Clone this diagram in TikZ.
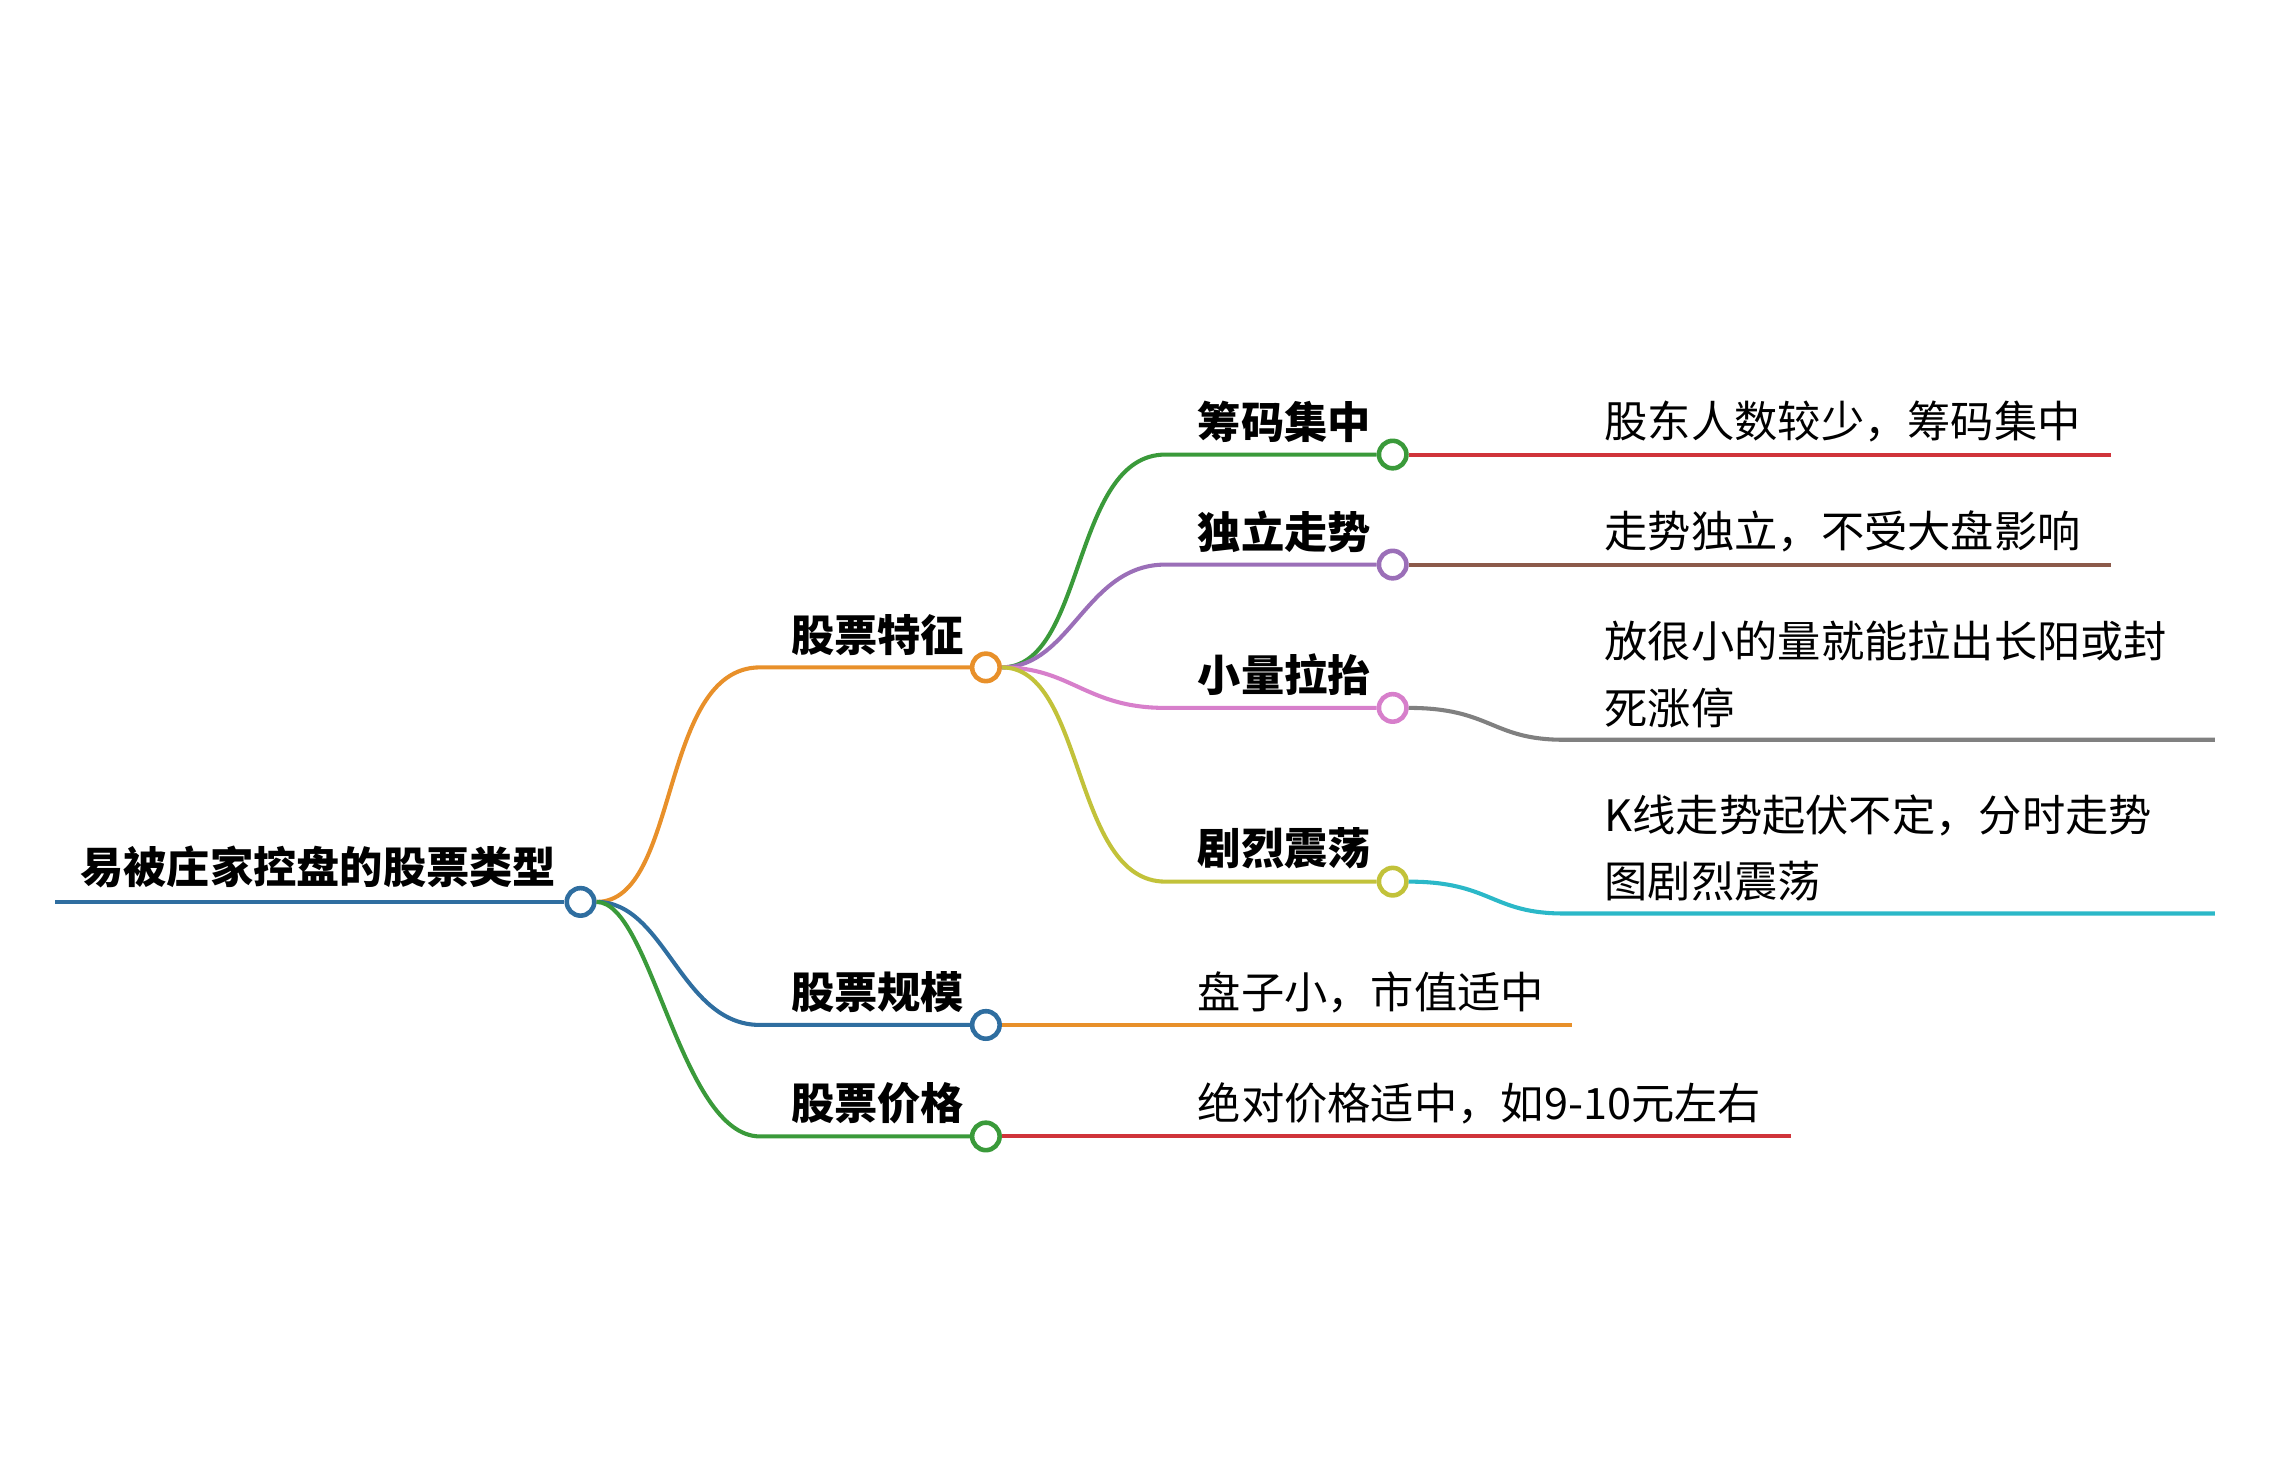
\documentclass[tikz,border=0pt]{standalone}
\usepackage{fontspec}
\setmainfont{Noto Sans CJK SC}
\usetikzlibrary{positioning}
\definecolor{cblue}{HTML}{2F6EA0}
\definecolor{corange}{HTML}{E8902A}
\definecolor{cgreen}{HTML}{3A9A3A}
\definecolor{cpurple}{HTML}{9B6FB8}
\definecolor{cpink}{HTML}{D77FCB}
\definecolor{colive}{HTML}{C2C23A}
\definecolor{cred}{HTML}{D0343A}
\definecolor{cbrown}{HTML}{8C5A4A}
\definecolor{cgray}{HTML}{808080}
\definecolor{ccyan}{HTML}{2BB8C8}
\begin{document}
\begin{tikzpicture}[x=0.01cm,y=-0.01cm,line width=0.8pt,
    dot/.style={circle,draw,fill=white,inner sep=0pt,minimum size=0.19cm,line width=0.9pt},
    topic/.style={font=\fontsize{8.5}{10}\selectfont\bfseries,inner sep=0pt,anchor=south west},
    leaf/.style={font=\fontsize{8.5}{13}\selectfont,inner sep=0pt,anchor=south west,align=left}]
    \useasboundingbox (0,0) rectangle (1568,1022);

    % root
    \coordinate (r0) at (38,623);
    \node[dot,draw=cblue] (r) at (401,623) {};
    \node[topic] (rt) at (54,615) {易被庄家控盘的股票类型};
    \draw[cblue] (r0) -- (r);

    % level 1
    \node[dot,draw=corange] (a) at (681,461) {};
    \node[dot,draw=cblue] (b) at (681,708) {};
    \node[dot,draw=cgreen] (c) at (681,785) {};
    \coordinate (as) at (525,461);
    \coordinate (bs) at (525,708);
    \coordinate (cs) at (525,785);
    \node[topic] (at) at (545,454) {股票特征};
    \node[topic] (bt) at (545,701) {股票规模};
    \node[topic] (ct) at (545,778) {股票价格};
    \draw[corange] (r.east) .. controls (470,623) and (455,461) .. (as) -- (a);
    \draw[cblue] (r.east) .. controls (460,623) and (470,708) .. (bs) -- (b);
    \draw[cgreen] (r.east) .. controls (450,623) and (470,785) .. (cs) -- (c);

    % level 2
    \node[dot,draw=cgreen] (a1) at (962,314) {};
    \node[dot,draw=cpurple] (a2) at (962,390) {};
    \node[dot,draw=cpink] (a3) at (962,489) {};
    \node[dot,draw=colive] (a4) at (962,609) {};
    \coordinate (a1s) at (805,314);
    \coordinate (a2s) at (805,390);
    \coordinate (a3s) at (805,489);
    \coordinate (a4s) at (805,609);
    \node[topic] (a1t) at (826,307) {筹码集中};
    \node[topic] (a2t) at (826,383) {独立走势};
    \node[topic] (a3t) at (826,482) {小量拉抬};
    \node[topic] (a4t) at (826,602) {剧烈震荡};
    \draw[cgreen] (a.east) .. controls (750,461) and (740,314) .. (a1s) -- (a1);
    \draw[cpurple] (a.east) .. controls (740,461) and (750,390) .. (a2s) -- (a2);
    \draw[cpink] (a.east) .. controls (740,461) and (750,489) .. (a3s) -- (a3);
    \draw[colive] (a.east) .. controls (750,461) and (740,609) .. (a4s) -- (a4);

    % leaves
    \coordinate (l1) at (1458,314);
    \coordinate (l2) at (1458,390);
    \coordinate (l3s) at (1080,511);
    \coordinate (l3) at (1530,511);
    \coordinate (l4s) at (1080,631);
    \coordinate (l4) at (1530,631);
    \coordinate (l5) at (1086,708);
    \coordinate (l6) at (1237,785);
    \draw[cred] (a1) -- (l1);
    \draw[cbrown] (a2) -- (l2);
    \draw[cgray] (a3.east) .. controls (1030,489) and (1030,511) .. (l3s) -- (l3);
    \draw[ccyan] (a4.east) .. controls (1030,609) and (1030,631) .. (l4s) -- (l4);
    \draw[corange] (b) -- (l5);
    \draw[cred] (c) -- (l6);
    \node[leaf] (l1t) at (1107,307) {股东人数较少，筹码集中};
    \node[leaf] (l2t) at (1107,383) {走势独立，不受大盘影响};
    \node[leaf] (l3t) at (1107,504) {放很小的量就能拉出长阳或封\\死涨停};
    \node[leaf] (l4t) at (1107,624) {K线走势起伏不定，分时走势\\图剧烈震荡};
    \node[leaf] (l5t) at (826,701) {盘子小，市值适中};
    \node[leaf] (l6t) at (826,778) {绝对价格适中，如9-10元左右};
\end{tikzpicture}
\end{document}
